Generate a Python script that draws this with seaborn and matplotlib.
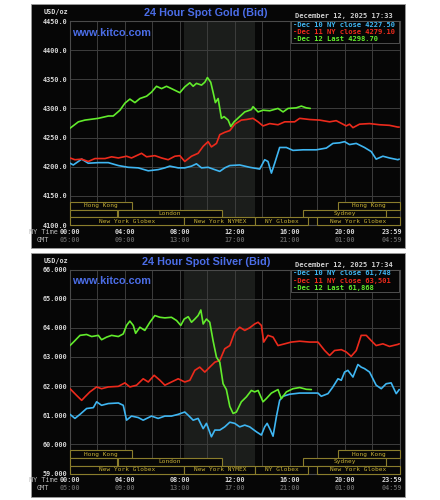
import numpy as np
import pandas as pd
import matplotlib
matplotlib.use('Agg')
import matplotlib.pyplot as plt
from matplotlib.patches import Rectangle
from matplotlib.transforms import blended_transform_factory
import seaborn as sns

# ---------------- data ----------------
# Gold (USD/oz), hours since 00:00 NY time
gold_dec10_h = [0, 0.24, 0.85, 1.33, 2.06, 2.79, 3.52, 4.24, 4.97, 5.7, 6.42, 6.91, 7.27, 7.88, 8.36,
                8.85, 9.21, 9.58, 10.06, 10.42, 10.91, 11.27, 11.64, 12.36, 13.09, 13.82, 14.18, 14.42,
                14.67, 14.91, 15.27, 15.76, 16.24, 16.97, 17.94, 18.67, 19.15, 19.64, 20.0, 20.36,
                20.85, 21.45, 21.94, 22.3, 22.79, 23.27, 23.88, 23.98]
gold_dec10_v = [4206, 4203, 4213, 4206, 4207, 4207, 4202, 4199, 4198, 4193, 4195, 4198, 4201, 4198, 4198,
                4201, 4205, 4198, 4199, 4196, 4192, 4198, 4202, 4203, 4199, 4196, 4212, 4209,
                4189, 4206, 4233, 4233, 4228, 4229, 4229, 4232, 4240, 4241, 4243, 4238,
                4240, 4233, 4226, 4213, 4218, 4215, 4212, 4213]
gold_dec11_h = [0, 0.36, 0.85, 1.33, 1.82, 2.55, 3.03, 3.52, 4.12, 4.48, 5.21, 5.58, 6.18, 6.67, 7.15,
                7.64, 8.0, 8.36, 8.85, 9.33, 9.7, 10.06, 10.3, 10.67, 10.91, 11.27, 11.64, 12.0, 12.48,
                12.85, 13.33, 13.7, 14.06, 14.55, 15.15, 15.64, 16.36, 16.73, 17.45, 18.18, 18.91,
                19.39, 19.88, 20.12, 20.36, 20.61, 21.09, 21.82, 22.55, 23.27, 23.88, 23.98]
gold_dec11_v = [4215, 4212, 4213, 4209, 4214, 4214, 4217, 4215, 4218, 4215, 4223, 4217, 4219, 4215, 4212,
                4218, 4219, 4209, 4218, 4223, 4235, 4243, 4234, 4240, 4255, 4259, 4262, 4273, 4280,
                4281, 4283, 4277, 4270, 4274, 4272, 4277, 4277, 4283, 4281, 4280, 4277,
                4279, 4273, 4270, 4273, 4267, 4273, 4274, 4272, 4271, 4268, 4268]
gold_dec12_h = [0, 0.61, 1.09, 2.06, 2.79, 3.15, 3.64, 4.0, 4.36, 4.73, 5.09, 5.58, 5.94, 6.3, 6.67,
                7.03, 7.39, 8.0, 8.36, 8.73, 8.97, 9.21, 9.58, 9.82, 10.01, 10.25, 10.42, 10.59, 10.79,
                11.03, 11.22, 11.52, 11.71, 11.95, 12.36, 12.73, 13.21, 13.33, 13.7, 14.06, 14.55,
                15.15, 15.52, 15.88, 16.48, 16.85, 17.21, 17.5]
gold_dec12_v = [4266, 4277, 4280, 4283, 4287, 4287, 4297, 4309, 4316, 4310, 4317, 4321, 4328, 4338, 4334,
                4338, 4334, 4327, 4337, 4344, 4338, 4343, 4340, 4345, 4353, 4345, 4328, 4310, 4317,
                4283, 4286, 4280, 4269, 4277, 4286, 4294, 4298, 4303, 4294, 4297, 4296,
                4300, 4294, 4300, 4301, 4304, 4301, 4300]

# Silver (USD/oz)
silver_dec10_h = [0, 0.36, 0.73, 1.21, 1.7, 1.94, 2.3, 2.79, 3.52, 3.88, 4.12, 4.48, 4.97, 5.33, 5.94,
                  6.42, 6.91, 7.39, 7.88, 8.36, 8.61, 8.97, 9.33, 9.7, 9.94, 10.3, 10.55, 10.91, 11.27,
                  11.64, 12.0, 12.36, 12.73, 13.09, 13.58, 13.94, 14.18, 14.36, 14.6, 14.79, 15.03,
                  15.27, 15.52, 16.0, 16.73, 17.45, 18.06, 18.3, 18.79, 19.15, 19.52, 19.76, 20.0,
                  20.24, 20.61, 20.97, 21.21, 21.45, 21.82, 22.3, 22.67, 23.03, 23.39, 23.76, 23.98]
silver_dec10_v = [61.03, 60.89, 61.03, 61.23, 61.26, 61.46, 61.34, 61.40, 61.42, 61.34, 60.83, 60.97, 60.92,
                  60.83, 60.97, 60.89, 60.97, 60.97, 61.03, 61.11, 61.00, 60.83, 60.89, 60.54, 60.72,
                  60.26, 60.49, 60.49, 60.60, 60.76, 60.72, 60.60, 60.66, 60.60, 60.43, 60.32, 60.60,
                  60.72, 60.49, 60.28, 60.94, 61.51, 61.65, 61.72, 61.76, 61.76, 61.76, 61.65, 61.74,
                  61.97, 62.25, 62.20, 62.48, 62.54, 62.31, 62.74, 62.65, 62.60, 62.48, 62.03, 61.91,
                  62.08, 62.11, 61.74, 61.88]
silver_dec11_h = [0, 0.48, 0.85, 1.09, 1.45, 1.94, 2.3, 2.79, 3.52, 4.0, 4.36, 4.85, 5.33, 5.7, 6.13,
                  6.55, 6.91, 7.39, 7.88, 8.36, 8.73, 9.09, 9.45, 9.82, 10.18, 10.55, 10.91, 11.27,
                  11.64, 12.0, 12.36, 12.73, 13.09, 13.45, 13.7, 13.94, 14.11, 14.42, 14.79, 15.15,
                  15.64, 16.12, 16.73, 17.45, 18.06, 18.55, 18.91, 19.27, 19.76, 20.12, 20.48, 20.85,
                  21.21, 21.58, 21.94, 22.3, 22.79, 23.27, 23.88, 23.98]
silver_dec11_v = [61.91, 61.68, 61.51, 61.63, 61.80, 61.97, 61.91, 61.97, 61.99, 62.11, 61.97, 62.03, 62.25,
                  62.14, 62.37, 62.20, 62.03, 62.14, 62.25, 62.14, 62.20, 62.54, 62.65, 62.48, 62.65,
                  62.82, 62.88, 63.28, 63.39, 63.85, 64.02, 63.91, 64.00, 64.13, 64.19, 64.08, 63.51,
                  63.74, 63.68, 63.39, 63.45, 63.51, 63.54, 63.51, 63.51, 63.22, 63.05, 63.22, 63.25,
                  63.17, 63.02, 63.22, 63.74, 63.74, 63.56, 63.39, 63.45, 63.36, 63.43, 63.45]
silver_dec12_h = [0, 0.36, 0.73, 1.21, 1.58, 2.06, 2.3, 2.67, 3.03, 3.52, 3.88, 4.12, 4.36, 4.61, 4.78,
                  5.09, 5.45, 5.82, 6.18, 6.55, 6.91, 7.39, 7.76, 8.07, 8.32, 8.61, 8.85, 9.09, 9.33,
                  9.53, 9.7, 9.94, 10.18, 10.42, 10.67, 10.91, 11.15, 11.39, 11.64, 11.88, 12.12, 12.48,
                  12.85, 13.21, 13.45, 13.7, 14.06, 14.3, 14.67, 15.15, 15.39, 15.76, 16.24, 16.73,
                  17.21, 17.58]
silver_dec12_v = [63.39, 63.56, 63.74, 63.77, 63.70, 63.74, 63.59, 63.68, 63.74, 63.70, 63.79, 64.08, 64.23,
                  64.08, 63.81, 64.02, 63.91, 64.19, 64.42, 64.36, 64.34, 64.36, 64.25, 64.08, 64.30,
                  64.38, 64.19, 64.30, 64.42, 64.61, 64.13, 64.30, 64.19, 63.56, 62.99, 62.82, 62.08,
                  61.88, 61.30, 61.06, 61.11, 61.46, 61.63, 61.85, 61.80, 61.85, 61.46, 61.57, 61.76,
                  61.88, 61.57, 61.80, 61.91, 61.95, 61.89, 61.88]

series_names = ['Dec 10', 'Dec 11', 'Dec 12']
gold_legend = ['-Dec 10 NY close 4227.50', '-Dec 11 NY close 4279.10', '-Dec 12 Last 4298.70']
silver_legend = ['-Dec 10 NY close 61,748', '-Dec 11 NY close 63,501', '-Dec 12 Last 61,868']

ny_labels = ['00:00', '04:00', '08:00', '12:00', '16:00', '20:00', '23:59']
gmt_labels = ['05:00', '09:00', '13:00', '17:00', '21:00', '01:00', '04:59']

# (row, start hour, end hour, label)
sessions = [(2, 0, 4.5, 'Hong Kong'), (2, 19.5, 24, 'Hong Kong'),
            (1, 0, 3.45, ''), (1, 3.5, 11.05, 'London'), (1, 17.0, 23.0, 'Sydney'),
            (0, 0, 8.33, 'New York Globex'), (0, 8.33, 13.5, 'New York NYMEX'),
            (0, 13.5, 17.35, 'NY Globex'), (0, 18.0, 24, 'New York Globex')]

# ---------------- style ----------------
sns.set_theme(style='dark')
plt.rcParams['font.family'] = ['DejaVu Sans']

W, H = 440, 500
fig = plt.figure(figsize=(4.4, 5.0), dpi=100, facecolor='white')

def fx(x):
    return x / W

def fy(y):
    return 1 - y / H

MONO = 'DejaVu Sans Mono'
SANS = 'Liberation Sans'
COLORS = {'Dec 10': '#3fb6f2', 'Dec 11': '#ec2a1c', 'Dec 12': '#62ec2c'}
BLUE = '#4b6de6'
BG = '#060606'


def draw_chart(oy, title, datestr, ylo, yhi, ystep, yfmt, data, legend_lines):
    fig.add_artist(Rectangle((fx(31), fy(oy + 248)), 374 / W, 244 / H, transform=fig.transFigure,
                             facecolor=BG, edgecolor='#9a9a9a', lw=0.6, zorder=-5))
    ax = fig.add_axes([fx(70), fy(oy + 225), 329.5 / W, 204 / H])
    ax.set_facecolor(BG)
    ax.axvspan(8.33, 13.5, color='#1b1d1b', zorder=0.1, lw=0)

    rows = []
    for name, (hh, vv) in zip(series_names, data):
        for h, v in zip(hh, vv):
            rows.append((name, h, v))
    df = pd.DataFrame(rows, columns=['series', 'hour', 'price'])
    sns.lineplot(data=df, x='hour', y='price', hue='series', hue_order=series_names,
                 palette=COLORS, estimator=None, sort=False, legend=False, lw=1.2, ax=ax, zorder=3)

    ax.set_xlim(0, 24)
    ax.set_ylim(ylo, yhi)
    ax.set_xlabel('')
    ax.set_ylabel('')
    ax.set_xticks(np.arange(0, 25, 2))
    ax.set_xticklabels([])
    yt = np.arange(ylo, yhi + 1e-9, ystep)
    ax.set_yticks(yt)
    ax.set_yticklabels([yfmt.format(v) for v in yt], fontfamily=MONO, fontsize=4.9,
                       color='#d8d8d8', fontweight='bold')
    ax.tick_params(axis='both', length=0, pad=2)
    ax.grid(True, color='#3d3d3d', lw=0.7)
    ax.set_axisbelow(True)
    for s in ax.spines.values():
        s.set_color('#4a4a4a')
        s.set_linewidth(0.8)

    trans = blended_transform_factory(ax.transData, ax.transAxes)
    rh = 7.7 / 204
    for row, s, e, lbl in sessions:
        ax.add_patch(Rectangle((s, row * rh), e - s, rh, transform=trans, facecolor=BG,
                               edgecolor='#8a7d2c', lw=0.8, zorder=4, clip_on=False))
        if lbl:
            ax.text((s + e) / 2, (row + 0.5) * rh, lbl, transform=trans, ha='center', va='center',
                    fontsize=4.4, color='#c9b236', family=MONO, zorder=5)

    # time labels
    tpos = [0, 4, 8, 12, 16, 20, 23.43]
    tt = blended_transform_factory(ax.transData, fig.transFigure)
    for p, a, b in zip(tpos, ny_labels, gmt_labels):
        ax.text(p, fy(oy + 232), a, transform=tt, ha='center', va='center', fontsize=4.9,
                family=MONO, fontweight='bold', color='#d8d8d8', clip_on=False)
        ax.text(p, fy(oy + 239.5), b, transform=tt, ha='center', va='center', fontsize=4.9,
                family=MONO, fontweight='bold', color='#5e5e5e', clip_on=False)
    fig.text(fx(58), fy(oy + 232), 'NY Time', ha='right', va='center', fontsize=4.9,
             family=MONO, color='#bdbdbd')
    fig.text(fx(43), fy(oy + 239.5), 'GMT', ha='center', va='center', fontsize=4.9,
             family=MONO, color='#bdbdbd')
    fig.text(fx(68), fy(oy + 12.3), 'USD/oz', ha='right', va='center', fontsize=4.9,
             family=MONO, fontweight='bold', color='#d8d8d8')

    # titles
    fig.text(fx(206), fy(oy + 13.3), title, ha='center', va='center', fontsize=7.8,
             family=SANS, fontweight='bold', color=BLUE)
    fig.text(fx(72), fy(oy + 32.7), 'www.kitco.com', ha='left', va='center', fontsize=7.8,
             family=SANS, fontweight='bold', color=BLUE)
    fig.text(fx(393), fy(oy + 16), datestr, ha='right', va='center', fontsize=5,
             family=MONO, fontweight='bold', color='#d0d0d0')

    # legend box
    fig.add_artist(Rectangle((fx(291), fy(oy + 43)), 108 / W, 22 / H, transform=fig.transFigure,
                             facecolor=BG, edgecolor='#5a5a5a', lw=0.6, zorder=2))
    for i, (name, line) in enumerate(zip(series_names, legend_lines)):
        fig.text(fx(293), fy(oy + 24.7 + 7.3 * i), line, ha='left', va='center', fontsize=5.1,
                 family=MONO, fontweight='bold', color=COLORS[name], zorder=3)
    return ax


draw_chart(0, '24 Hour Spot Gold (Bid)', 'December 12, 2025 17:33', 4100, 4450, 50, '{:.1f}',
           [(gold_dec10_h, gold_dec10_v), (gold_dec11_h, gold_dec11_v), (gold_dec12_h, gold_dec12_v)],
           gold_legend)
draw_chart(248.5, '24 Hour Spot Silver (Bid)', 'December 12, 2025 17:34', 59, 66, 1, '{:.3f}',
           [(silver_dec10_h, silver_dec10_v), (silver_dec11_h, silver_dec11_v),
            (silver_dec12_h, silver_dec12_v)],
           silver_legend)

fig.savefig('out.png', dpi=100, facecolor='white')
